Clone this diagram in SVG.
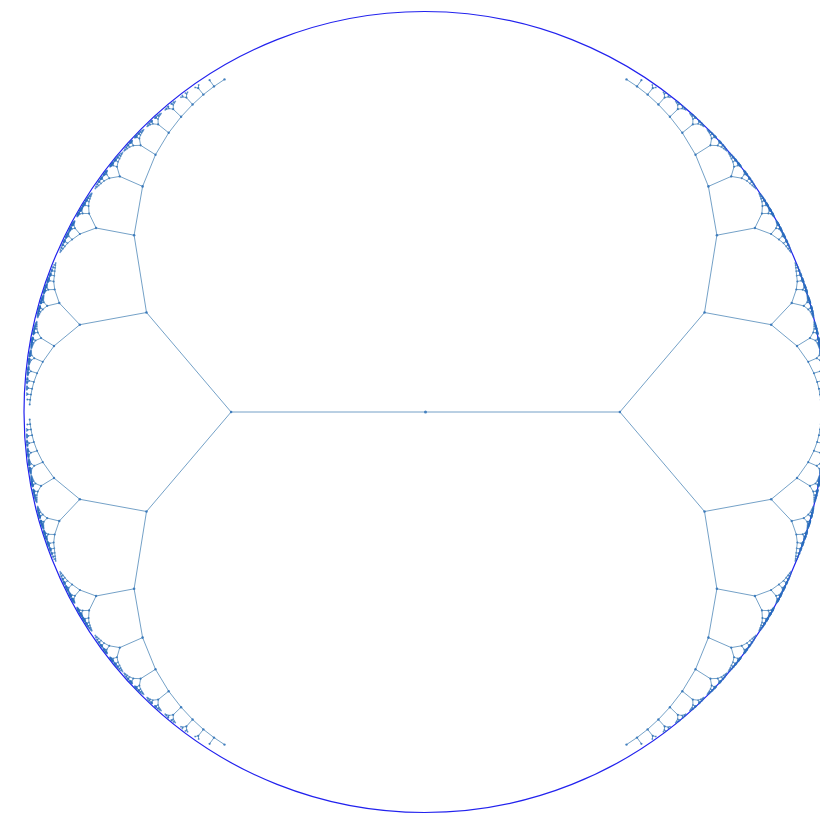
<svg xmlns="http://www.w3.org/2000/svg" width="820" height="816" viewBox="0 0 820 816">
<style>
.e{fill:none;stroke:#4682b4;stroke-opacity:.75;stroke-width:1}
.v{vector-effect:non-scaling-stroke}
.d{fill:none;stroke:#2a6cc0;stroke-opacity:.6;stroke-width:1.9;stroke-linecap:round}
.n{fill:#2f72b8;fill-opacity:.85}
.rim{fill:none;stroke:#2222ee;stroke-width:1.2}
</style>
<defs>
<g id="a1"><path class="e v" d="M0 0L.4888 .5565M0 0L-.4888 .5565"/><path class="d v" d="M.4888 .5565h.001M-.4888 .5565h.001"/></g>
<g id="b1"><path class="e v" d="M0 0L.7863 .3821M0 0L-.2339 .6324"/><path class="d v" d="M.7863 .3821h.001M-.2339 .6324h.001"/></g>
<g id="c1"><path class="e v" d="M0 0L.9536 .2242M0 0L-.1157 .6488"/><path class="d v" d="M.9536 .2242h.001M-.1157 .6488h.001"/></g>
<g id="d1"><path class="e v" d="M0 0L.2339 .6324M0 0L-.7863 .3821"/><path class="d v" d="M.2339 .6324h.001M-.7863 .3821h.001"/></g>
<g id="f1"><path class="e v" d="M0 0L.1157 .6488M0 0L-.9536 .2242"/><path class="d v" d="M.1157 .6488h.001M-.9536 .2242h.001"/></g>

<g id="a2"><use href="#a1"/><use href="#b1" transform="translate(.4888 .5565) scale(.4435)"/><use href="#d1" transform="translate(-.4888 .5565) scale(.4435)"/></g>
<g id="b2"><use href="#b1"/><use href="#c1" transform="translate(.7863 .3821) scale(.6179)"/><use href="#a1" transform="translate(-.2339 .6324) scale(.3676)"/></g>
<g id="c2"><use href="#c1"/><use href="#c1" transform="translate(.9536 .2242) scale(.7758)"/><use href="#a1" transform="translate(-.1157 .6488) scale(.3512)"/></g>
<g id="d2"><use href="#d1"/><use href="#a1" transform="translate(.2339 .6324) scale(.3676)"/><use href="#f1" transform="translate(-.7863 .3821) scale(.6179)"/></g>
<g id="f2"><use href="#f1"/><use href="#a1" transform="translate(.1157 .6488) scale(.3512)"/><use href="#f1" transform="translate(-.9536 .2242) scale(.7758)"/></g>

<g id="a3"><use href="#a1"/><use href="#b2" transform="translate(.4888 .5565) scale(.4435)"/><use href="#d2" transform="translate(-.4888 .5565) scale(.4435)"/></g>
<g id="b3"><use href="#b1"/><use href="#c2" transform="translate(.7863 .3821) scale(.6179)"/><use href="#a2" transform="translate(-.2339 .6324) scale(.3676)"/></g>
<g id="c3"><use href="#c1"/><use href="#c2" transform="translate(.9536 .2242) scale(.7758)"/><use href="#a2" transform="translate(-.1157 .6488) scale(.3512)"/></g>
<g id="d3"><use href="#d1"/><use href="#a2" transform="translate(.2339 .6324) scale(.3676)"/><use href="#f2" transform="translate(-.7863 .3821) scale(.6179)"/></g>
<g id="f3"><use href="#f1"/><use href="#a2" transform="translate(.1157 .6488) scale(.3512)"/><use href="#f2" transform="translate(-.9536 .2242) scale(.7758)"/></g>

<g id="a4"><use href="#a1"/><use href="#b3" transform="translate(.4888 .5565) scale(.4435)"/><use href="#d3" transform="translate(-.4888 .5565) scale(.4435)"/></g>
<g id="b4"><use href="#b1"/><use href="#c3" transform="translate(.7863 .3821) scale(.6179)"/><use href="#a3" transform="translate(-.2339 .6324) scale(.3676)"/></g>
<g id="c4"><use href="#c1"/><use href="#c3" transform="translate(.9536 .2242) scale(.7758)"/><use href="#a3" transform="translate(-.1157 .6488) scale(.3512)"/></g>
<g id="d4"><use href="#d1"/><use href="#a3" transform="translate(.2339 .6324) scale(.3676)"/><use href="#f3" transform="translate(-.7863 .3821) scale(.6179)"/></g>
<g id="f4"><use href="#f1"/><use href="#a3" transform="translate(.1157 .6488) scale(.3512)"/><use href="#f3" transform="translate(-.9536 .2242) scale(.7758)"/></g>

<g id="a5"><use href="#a1"/><use href="#b4" transform="translate(.4888 .5565) scale(.4435)"/><use href="#d4" transform="translate(-.4888 .5565) scale(.4435)"/></g>
<g id="b5"><use href="#b1"/><use href="#c4" transform="translate(.7863 .3821) scale(.6179)"/><use href="#a4" transform="translate(-.2339 .6324) scale(.3676)"/></g>
<g id="d5"><use href="#d1"/><use href="#a4" transform="translate(.2339 .6324) scale(.3676)"/><use href="#f4" transform="translate(-.7863 .3821) scale(.6179)"/></g>
<g id="f5"><use href="#f1"/><use href="#a4" transform="translate(.1157 .6488) scale(.3512)"/><use href="#f4" transform="translate(-.9536 .2242) scale(.7758)"/></g>

<g id="q">
<path class="e" d="M231.1 412L146.5 312.5M146.5 312.5L79.8 324.7M146.5 312.5L134.1 235.2M79.8 324.7L54 346M79.8 324.7L59.3 303M134.1 235.2L96.1 228M134.1 235.2L142.6 186.4M142.6 186.4L119.8 176.4M142.6 186.4L155.5 154.7M155.5 154.7L140.6 145.3M155.5 154.7L168.7 132.8M168.7 132.8L158.2 124.4M168.7 132.8L181.1 116.8M181.1 116.8L173.2 109.2M181.1 116.8L192.6 104.5M192.6 104.5L186.4 97.6M192.6 104.5L203.4 94.6M203.4 94.6L198.3 88.2M203.4 94.6L214 86.4M214 86.4L209.6 80.2M214 86.4L224.5 79.4M54 346L42.8 361.8M54 346L41.1 338.1M59.3 303L47.2 305.9M59.3 303L54.7 289.5M96.1 228L79.9 234M96.1 228L89.1 213.6M119.8 176.4L109.3 178.2M119.8 176.4L117 166.8M140.6 145.3L133.3 145.6M140.6 145.3L139.4 138.4M42.8 361.8L37.1 373.2M42.8 361.8L34.3 358.2M37.1 373.2L33.9 381.9M37.1 373.2L31 371.3M33.9 381.9L32.1 388.8M33.9 381.9L29.2 380.8M32.1 388.8L31 394.6M32.1 388.8L28.3 388.1M31 394.6L30.2 399.8M31 394.6L27.7 394.2M30.2 399.8L29.7 404.6M30.2 399.8L27.3 399.5M54.7 289.5L53.7 281.4M54.7 289.5L48.3 289.7M79.9 234L72.1 239.6M79.9 234L75 228.2M89.1 213.6L82.6 213.4M89.1 213.6L88.6 206M41.1 338.1L35.5 340.5M41.1 338.1L37.8 332.4M47.2 305.9L42.7 309.4M47.2 305.9L43.8 302.3"/>
<use href="#b5" transform="translate(109.3 178.2) rotate(126.47) scale(6.7)"/>
<use href="#d5" transform="translate(117 166.8) rotate(128.48) scale(5.9)"/>
<use href="#b4" transform="translate(133.3 145.6) rotate(132.35) scale(4.6)"/>
<use href="#d4" transform="translate(139.4 138.4) rotate(133.72) scale(4.2)"/>
<use href="#a4" transform="translate(158.2 124.4) rotate(137.1) scale(7.3)"/>
<use href="#a3" transform="translate(173.2 109.2) rotate(140.2) scale(5.9)"/>
<use href="#a2" transform="translate(186.4 97.6) rotate(142.74) scale(5)"/>
<use href="#a1" transform="translate(198.3 88.2) rotate(144.95) scale(4.5)"/>
<use href="#a5" transform="translate(34.3 358.2) rotate(97.83) scale(5.1)"/>
<use href="#a4" transform="translate(31 371.3) rotate(95.9) scale(3.42)"/>
<use href="#a3" transform="translate(29.2 380.8) rotate(94.5) scale(2.55)"/>
<use href="#a2" transform="translate(28.3 388.1) rotate(93.44) scale(2.05)"/>
<use href="#a1" transform="translate(27.7 394.2) rotate(92.56) scale(1.77)"/>
<use href="#f5" transform="translate(53.7 281.4) rotate(109.36) scale(5.9)"/>
<use href="#a5" transform="translate(48.3 289.7) rotate(107.96) scale(3.5)"/>
<use href="#b5" transform="translate(72.1 239.6) rotate(116.01) scale(6.7)"/>
<use href="#a5" transform="translate(75 228.2) rotate(117.67) scale(4.2)"/>
<use href="#a5" transform="translate(82.6 213.4) rotate(120.08) scale(3.7)"/>
<use href="#d5" transform="translate(88.6 206) rotate(121.45) scale(5.1)"/>
<use href="#b5" transform="translate(35.5 340.5) rotate(100.39) scale(3.5)"/>
<use href="#d5" transform="translate(37.8 332.4) rotate(101.61) scale(4.2)"/>
<use href="#b5" transform="translate(42.7 309.4) rotate(105.01) scale(3.7)"/>
<use href="#d5" transform="translate(43.8 302.3) rotate(106.04) scale(2.8)"/>
<g id="qnodes" class="n">
<circle cx="146.5" cy="312.5" r="1.3"/><circle cx="79.8" cy="324.7" r="1.3"/><circle cx="134.1" cy="235.2" r="1.3"/><circle cx="54" cy="346" r="1.2"/><circle cx="59.3" cy="303" r="1.2"/><circle cx="96.1" cy="228" r="1.2"/><circle cx="142.6" cy="186.4" r="1.3"/><circle cx="119.8" cy="176.4" r="1.2"/><circle cx="155.5" cy="154.7" r="1.2"/><circle cx="140.6" cy="145.3" r="1.1"/><circle cx="168.7" cy="132.8" r="1.2"/><circle cx="158.2" cy="124.4" r="1.1"/><circle cx="181.1" cy="116.8" r="1.2"/><circle cx="173.2" cy="109.2" r="1.1"/><circle cx="192.6" cy="104.5" r="1.2"/><circle cx="186.4" cy="97.6" r="1.1"/><circle cx="203.4" cy="94.6" r="1.2"/><circle cx="198.3" cy="88.2" r="1.1"/><circle cx="214" cy="86.4" r="1.2"/><circle cx="209.6" cy="80.2" r="1.1"/><circle cx="224.5" cy="79.4" r="1.2"/><circle cx="42.8" cy="361.8" r="1.1"/><circle cx="41.1" cy="338.1" r="1.1"/><circle cx="47.2" cy="305.9" r="1.1"/><circle cx="54.7" cy="289.5" r="1.1"/><circle cx="79.9" cy="234" r="1.1"/><circle cx="89.1" cy="213.6" r="1.1"/><circle cx="109.3" cy="178.2" r="1"/><circle cx="117" cy="166.8" r="1"/><circle cx="133.3" cy="145.6" r="1"/><circle cx="139.4" cy="138.4" r="1"/><circle cx="37.1" cy="373.2" r="1"/><circle cx="34.3" cy="358.2" r="1"/><circle cx="33.9" cy="381.9" r="1"/><circle cx="32.1" cy="388.8" r="1"/><circle cx="31" cy="394.6" r="1"/><circle cx="30.2" cy="399.8" r="1"/><circle cx="29.7" cy="404.6" r="1"/><circle cx="53.7" cy="281.4" r="1"/><circle cx="48.3" cy="289.7" r="1"/><circle cx="72.1" cy="239.6" r="1"/><circle cx="75" cy="228.2" r="1"/><circle cx="82.6" cy="213.4" r="1"/><circle cx="88.6" cy="206" r="1"/><circle cx="35.5" cy="340.5" r="1"/><circle cx="37.8" cy="332.4" r="1"/><circle cx="42.7" cy="309.4" r="1"/><circle cx="43.8" cy="302.3" r="1"/><circle cx="31" cy="371.3" r=".9"/><circle cx="29.2" cy="380.8" r=".9"/><circle cx="28.3" cy="388.1" r=".9"/><circle cx="27.7" cy="394.2" r=".9"/><circle cx="27.3" cy="399.5" r=".9"/>
</g>
</g>
</defs>
<rect width="820" height="816" fill="#ffffff"/>
<circle id="boundary" class="rim" cx="424.5" cy="412" r="400.5"/>
<g id="connectors">
<path class="e" d="M231.1 412H619.9"/>
<use href="#q"/>
<use href="#q" transform="matrix(-1 0 0 1 851 0)"/>
<use href="#q" transform="matrix(1 0 0 -1 0 824)"/>
<use href="#q" transform="matrix(-1 0 0 -1 851 824)"/>
</g>
<g id="nodes" class="n">
<g id="node-root"><circle cx="425.5" cy="412" r="1.5"/></g>
<g id="node-left"><circle cx="231.1" cy="412" r="1.3"/></g>
<g id="node-right"><circle cx="619.9" cy="412" r="1.3"/></g>
</g>
</svg>
